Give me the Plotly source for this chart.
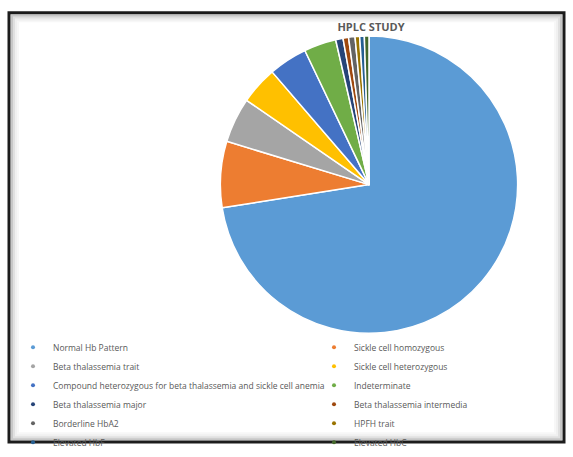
import plotly.graph_objects as go

# ---- data ----
labels = [
    "Normal Hb Pattern",
    "Sickle cell homozygous",
    "Beta thalassemia trait",
    "Sickle cell heterozygous",
    "Compound heterozygous for beta thalassemia and sickle cell anemia",
    "Indeterminate",
    "Beta thalassemia major",
    "Beta thalassemia intermedia",
    "Borderline HbA2",
    "HPFH trait",
    "Elevated HbF",
    "Elevated HbC",
]
values = [72.5, 7.2, 4.9, 4.1, 4.2, 3.5, 0.8, 0.6, 0.7, 0.5, 0.5, 0.5]
colors = ["#5B9BD5", "#ED7D31", "#A5A5A5", "#FFC000", "#4472C4", "#70AD47",
          "#264478", "#9E480E", "#636363", "#997300", "#255E91", "#43682B"]
title_text = "HPLC STUDY"

W, H = 573, 457
cx, cy, r = 369, 190, 153

fig = go.Figure()
fig.add_trace(go.Pie(
    labels=labels, values=values, sort=False, direction="clockwise", rotation=0,
    marker=dict(colors=colors, line=dict(color="white", width=1.5)),
    textinfo="none", hoverinfo="label+percent", showlegend=False,
    domain=dict(x=[(cx - r) / W, (cx + r) / W], y=[1 - (cy + r) / H, 1 - (cy - r) / H]),
))

# legend entries (two columns, as in the original Excel legend)
for i, (lab, col) in enumerate(zip(labels, colors)):
    fig.add_trace(go.Scatter(
        x=[None], y=[None], mode="markers", name=lab,
        marker=dict(symbol="circle", size=4, color=col),
        legend="legend" if i % 2 == 0 else "legend2", showlegend=True, hoverinfo="skip",
    ))

legend_font = dict(family="Open Sans", size=8.5, color="#595959")
fig.update_layout(
    width=W, height=H,
    margin=dict(l=0, r=0, t=0, b=0),
    paper_bgcolor="white", plot_bgcolor="white",
    xaxis=dict(visible=False), yaxis=dict(visible=False),
    title=dict(text="<b>" + title_text + "</b>", x=371 / W, y=1 - 27 / H,
               xanchor="center", yanchor="middle",
               font=dict(family="Open Sans", size=11, color="#595959")),
    legend=dict(x=13 / W, y=1 - 342.5 / H, xanchor="left", yanchor="top",
                font=legend_font, bgcolor="rgba(0,0,0,0)", itemsizing="trace",
                tracegroupgap=0),
    legend2=dict(x=314 / W, y=1 - 342.5 / H, xanchor="left", yanchor="top",
                 font=legend_font, bgcolor="rgba(0,0,0,0)", itemsizing="trace",
                 tracegroupgap=0),
    showlegend=True,
)

# frame with inner shadow
shapes = []
for k, (inset, colr, lw) in enumerate([(0, "#1c1c1c", 3), (3, "rgba(0,0,0,0.22)", 2),
                                        (5, "rgba(0,0,0,0.12)", 2), (7, "rgba(0,0,0,0.06)", 2),
                                        (9, "rgba(0,0,0,0.03)", 2)]):
    x0, y0, x1, y1 = 9 + inset, 13 + inset, 564 - inset, 455 - inset
    shapes.append(dict(type="rect", xref="paper", yref="paper",
                       x0=x0 / W, x1=x1 / W, y0=1 - y1 / H, y1=1 - y0 / H,
                       line=dict(color=colr, width=lw), fillcolor="rgba(0,0,0,0)",
                       layer="above"))
fig.update_layout(shapes=shapes)

fig.write_html("out.html")
